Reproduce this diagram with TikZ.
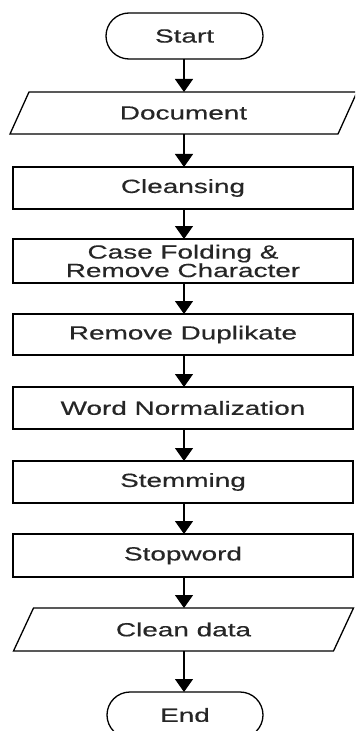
\documentclass[tikz,border=0pt]{standalone}
\usepackage{fontspec}
\setmainfont{Liberation Sans}[FakeStretch=1.47,FakeBold=0.4]
\usetikzlibrary{arrows.meta,calc}
\begin{document}
\begin{tikzpicture}[x=1bp,y=-1bp,
  every node/.style={font=\fontsize{19bp}{18.5bp}\selectfont, text=black!85},
  procbox/.style={draw, line width=1.3bp, minimum width=340bp, minimum height=42bp, inner sep=0pt, outer sep=0pt, align=center},
  termbox/.style={draw, line width=1.3bp, rounded corners=23bp, minimum width=157bp, minimum height=46bp, inner sep=0pt, outer sep=0pt},
  iobox/.style={minimum height=42bp, inner sep=0pt, outer sep=0pt},
  flow/.style={line width=1.3bp, -{Triangle[length=13bp,width=18bp]}}
]
\useasboundingbox (0,0) rectangle (355,731);
\clip (0,0) rectangle (355,731);
\fill[white] (0,0) rectangle (355,731);

\node[termbox] (start) at (184.5,36) {Start};
\node[iobox, minimum width=328bp] (doc) at (183.5,113) {Document};
\node[procbox] (clean) at (183,188) {Cleansing};
\node[procbox, minimum height=44bp] (fold) at (183,261) {Case Folding \&\\Remove Character};
\node[procbox, minimum height=41bp] (dup) at (183,334.5) {Remove Duplikate};
\node[procbox] (norm) at (183,408) {Word Normalization};
\node[procbox] (stem) at (183,482) {Stemming};
\node[procbox, minimum height=43bp] (stop) at (183,555.5) {Stopword};
\node[iobox, minimum width=320bp, minimum height=43bp] (data) at (183.5,629.5) {Clean data};
\node[termbox, minimum width=156bp] (endn) at (185,715) {End};

\draw[line width=1.3bp] ($(doc.south west)+(-9.5,0)$) -- ($(doc.north west)+(9.5,0)$) -- ($(doc.north east)+(9.5,0)$) -- ($(doc.south east)+(-9.5,0)$) -- cycle;
\draw[line width=1.3bp] ($(data.south west)+(-10,0)$) -- ($(data.north west)+(10,0)$) -- ($(data.north east)+(10,0)$) -- ($(data.south east)+(-10,0)$) -- cycle;

\draw[flow] (start.south -| 184,0) -- (doc.north -| 184,0);
\draw[flow] (doc.south -| 184,0) -- (clean.north -| 184,0);
\draw[flow] (clean.south -| 184,0) -- (fold.north -| 184,0);
\draw[flow] (fold.south -| 184,0) -- (dup.north -| 184,0);
\draw[flow] (dup.south -| 184,0) -- (norm.north -| 184,0);
\draw[flow] (norm.south -| 184,0) -- (stem.north -| 184,0);
\draw[flow] (stem.south -| 184,0) -- (stop.north -| 184,0);
\draw[flow] (stop.south -| 184,0) -- (data.north -| 184,0);
\draw[flow] (data.south -| 184,0) -- (endn.north -| 184,0);
\end{tikzpicture}
\end{document}
